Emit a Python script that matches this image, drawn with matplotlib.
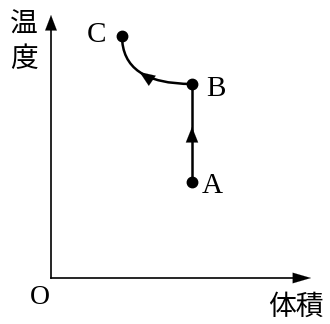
import matplotlib
matplotlib.use("Agg")
import matplotlib.pyplot as plt
from matplotlib.path import Path
from matplotlib.patches import PathPatch

# State points (volume, temperature) in arbitrary units
labels = ["A", "B", "C"]
volume = [141, 141, 71]
temperature = [96, 194, 242]

fig = plt.figure(figsize=(3.3, 3.24), dpi=100)
ax = fig.add_axes([0, 0, 1, 1])
ax.set_xlim(-51, 279)
ax.set_ylim(-46, 278)
ax.axis("off")

serif = ["Liberation Serif", "DejaVu Serif"]
cjk = ["Noto Sans CJK JP", "DejaVu Sans"]


def arrow(tip, tail, hl, hw, lw=0.1, ms=1):
    ax.annotate("", xy=tip, xytext=tail,
                arrowprops=dict(arrowstyle=f"-|>,head_length={hl},head_width={hw}",
                                lw=lw, color="black", shrinkA=0, shrinkB=0,
                                mutation_scale=ms))


# axes with arrows
ax.plot([0, 0], [0, 255], color="black", lw=1.2)
ax.plot([0, 250], [0, 0], color="black", lw=1.2)
arrow((0, 263), (0, 248), 11, 4.2)
arrow((260, 0), (243, 0), 13, 3.8)

A = (volume[0], temperature[0])
B = (volume[1], temperature[1])
C = (volume[2], temperature[2])

# A -> B straight line
ax.plot([A[0], B[0]], [A[1], B[1]], color="black", lw=1.8, solid_capstyle="butt")
midy = (A[1] + B[1]) / 2
arrow((A[0], midy + 6), (A[0], midy - 9), 11, 4.4)

# B -> C curve (quadratic Bezier)
ctrl = (C[0], B[1])
path = Path([B, ctrl, C], [Path.MOVETO, Path.CURVE3, Path.CURVE3])
ax.add_patch(PathPatch(path, facecolor="none", edgecolor="black", lw=1.8))
t = 0.5
px = (1 - t) ** 2 * B[0] + 2 * (1 - t) * t * ctrl[0] + t ** 2 * C[0]
py = (1 - t) ** 2 * B[1] + 2 * (1 - t) * t * ctrl[1] + t ** 2 * C[1]
dx = 2 * (1 - t) * (ctrl[0] - B[0]) + 2 * t * (C[0] - ctrl[0])
dy = 2 * (1 - t) * (ctrl[1] - B[1]) + 2 * t * (C[1] - ctrl[1])
n = (dx ** 2 + dy ** 2) ** 0.5
arrow((px, py), (px - 15 * dx / n, py - 15 * dy / n), 11, 4.4)

# points
ax.plot(volume, temperature, "o", color="black", markersize=7.5, zorder=5)

# point labels
offsets = {"A": (20, -4), "B": (24, -5), "C": (-25, 1)}
for lab, x, y in zip(labels, volume, temperature):
    ox, oy = offsets[lab]
    ax.text(x + ox, y + oy, lab, fontsize=21, family=serif, ha="center", va="center")

ax.text(-11, -20, "O", fontsize=20, family=serif, ha="center", va="center")
ax.text(245, -29, "体積", fontsize=20, family=cjk, ha="center", va="center")
ax.text(-27, 236, "温\n度", fontsize=20, family=cjk, ha="center", va="center", linespacing=1.2)

fig.savefig("out.png", dpi=100)
